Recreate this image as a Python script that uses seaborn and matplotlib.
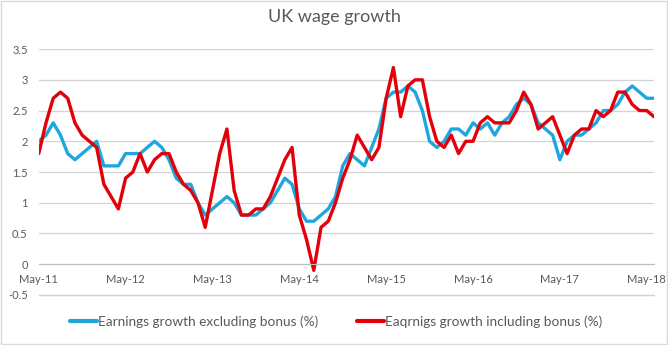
import numpy as np
import pandas as pd
import matplotlib
matplotlib.use("Agg")
import matplotlib.pyplot as plt
import seaborn as sns
from matplotlib.patches import Rectangle
from matplotlib.lines import Line2D

# Monthly data, May 2011 – Jun 2018
months = pd.date_range("2011-05-01", periods=86, freq="MS")

excl_bonus = [
    2.0, 2.1, 2.3, 2.1, 1.8, 1.7, 1.8, 1.9, 2.0, 1.6, 1.6, 1.6,
    1.8, 1.8, 1.8, 1.9, 2.0, 1.9, 1.7, 1.4, 1.3, 1.3, 1.0, 0.8,
    0.9, 1.0, 1.1, 1.0, 0.8, 0.8, 0.8, 0.9, 1.0, 1.2, 1.4, 1.3,
    0.9, 0.7, 0.7, 0.8, 0.9, 1.1, 1.6, 1.8, 1.7, 1.6, 1.9, 2.2,
    2.7, 2.8, 2.8, 2.9, 2.8, 2.5, 2.0, 1.9, 2.0, 2.2, 2.2, 2.1,
    2.3, 2.2, 2.3, 2.1, 2.3, 2.4, 2.6, 2.7, 2.6, 2.3, 2.2, 2.1,
    1.7, 2.0, 2.1, 2.1, 2.2, 2.3, 2.5, 2.5, 2.6, 2.8, 2.9, 2.8, 2.7, 2.7,
]
incl_bonus = [
    1.8, 2.3, 2.7, 2.8, 2.7, 2.3, 2.1, 2.0, 1.9, 1.3, 1.1, 0.9,
    1.4, 1.5, 1.8, 1.5, 1.7, 1.8, 1.8, 1.5, 1.3, 1.2, 1.0, 0.6,
    1.2, 1.8, 2.2, 1.2, 0.8, 0.8, 0.9, 0.9, 1.1, 1.4, 1.7, 1.9,
    0.8, 0.4, -0.1, 0.6, 0.7, 1.0, 1.4, 1.7, 2.1, 1.9, 1.7, 1.9,
    2.7, 3.2, 2.4, 2.9, 3.0, 3.0, 2.4, 2.0, 1.9, 2.1, 1.8, 2.0,
    2.0, 2.3, 2.4, 2.3, 2.3, 2.3, 2.5, 2.8, 2.6, 2.2, 2.3, 2.4,
    2.1, 1.8, 2.1, 2.2, 2.2, 2.5, 2.4, 2.5, 2.8, 2.8, 2.6, 2.5, 2.5, 2.4,
]
series_names = [
    "Earnings growth excluding bonus (%)",
    "Eaqrnigs growth including bonus (%)",
]
series_colors = ["#1ea7df", "#e4000b"]
y_ticks = [-0.5, 0, 0.5, 1, 1.5, 2, 2.5, 3, 3.5]

pos = np.arange(len(months))
df = pd.DataFrame({
    "pos": np.concatenate([pos, pos]),
    "value": excl_bonus + incl_bonus,
    "series": [series_names[0]] * len(pos) + [series_names[1]] * len(pos),
})

sns.set_theme(style="white")
plt.rcParams["font.family"] = ["Lato", "DejaVu Sans"]

fig = plt.figure(figsize=(6.68, 3.45), dpi=100)
ax = fig.add_axes([0.058, 0.1397, 0.921, 0.718])

sns.lineplot(data=df, x="pos", y="value", hue="series",
             palette=series_colors, hue_order=series_names,
             linewidth=2.4, ax=ax, legend=False, sort=False)

# Axis styling (Excel-like)
ax.set_xlim(pos[0], pos[-1])
ax.set_ylim(-0.53, 3.5)
ax.set_yticks(y_ticks)
ax.set_yticklabels([f"{t:g}" for t in y_ticks], color="#595959", fontsize=8)
for t in y_ticks:
    ax.add_line(Line2D([pos[0], pos[-1]], [t, t], color="#d4d4d4",
                       linewidth=0.9, zorder=1.9))
for s in ["top", "right", "left"]:
    ax.spines[s].set_visible(False)
ax.spines["bottom"].set_position(("data", 0))
ax.spines["bottom"].set_color("#bfbfbf")
ax.spines["bottom"].set_linewidth(0.8)
ax.tick_params(axis="y", length=0, pad=8)

may_idx = [i for i, m in enumerate(months) if m.month == 5]
ax.set_xticks(may_idx)
ax.set_xticklabels([months[i].strftime("%b-%y") for i in may_idx],
                   color="#595959", fontsize=8)
ax.tick_params(axis="x", direction="out", length=4, color="#bfbfbf",
               width=0.8, pad=3)
ax.set_xlabel("")
ax.set_ylabel("")

# Bottom gridline (-0.5) placed in display space from the data transform
fig.canvas.draw()
y_low = fig.transFigure.inverted().transform(ax.transData.transform((0, -0.5)))[1]
fig.add_artist(Line2D([0.058, 0.979], [y_low, y_low], transform=fig.transFigure,
                      color="#d4d4d4", linewidth=1.0, zorder=3))

fig.text(0.5, 0.95, "UK wage growth", ha="center", va="center",
         fontsize=13, color="#595959")

handles = [plt.Line2D([], [], color=c, linewidth=3) for c in series_colors]
fig.legend(handles, series_names, loc="center",
           bbox_to_anchor=(0.503, 0.067), ncol=2, frameon=False,
           fontsize=9.8, handlelength=2.0, handletextpad=0.1,
           columnspacing=2.8, labelcolor="#595959")

fig.patches.append(Rectangle((0.001, 0.002), 0.997, 0.995,
                             transform=fig.transFigure, fill=False,
                             edgecolor="#d9d9d9", linewidth=1))

fig.savefig("out.png", dpi=100, facecolor="white")
